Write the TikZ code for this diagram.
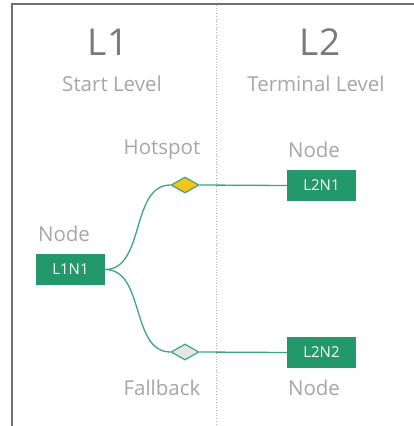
\documentclass[tikz,border=0pt]{standalone}
\usepackage{fontspec}
\setmainfont{Open Sans}
\usetikzlibrary{shapes.geometric}
\definecolor{frame}{HTML}{707070}
\definecolor{head}{HTML}{7A7A7A}
\definecolor{sub}{HTML}{A6A6A6}
\definecolor{dots}{HTML}{B0B0B0}
\definecolor{boxg}{HTML}{23986A}
\definecolor{lineg}{HTML}{3DA67C}
\definecolor{hot}{HTML}{F5C518}
\definecolor{fall}{HTML}{E6E6E6}
\begin{document}
\begin{tikzpicture}[x=1pt,y=-1pt,
  title/.style={text=head,font=\fontsize{37}{40}\selectfont,inner sep=0pt},
  subtitle/.style={text=sub,font=\fontsize{20.5}{22}\selectfont,inner sep=0pt},
  lbl/.style={text=sub,font=\fontsize{20.5}{22}\selectfont,inner sep=0pt},
  nodebox/.style={fill=boxg,draw=none,minimum width=69pt,minimum height=31pt,inner sep=0pt,text=white,font=\fontsize{15}{17}\selectfont},
  spot/.style={diamond,draw=lineg,line width=1.2pt,minimum width=28pt,minimum height=16pt,inner sep=0pt,aspect=1.75},
  conn/.style={draw=lineg,line width=1.3pt}]
\useasboundingbox (0,0) rectangle (414,426);
\draw[frame,line width=2pt] (12,426) -- (12,4) -- (414,4);
\draw[dots,dotted,line width=0.7pt] (216,5) -- (216,426);
\node[title] (t1) at (108,42) {L1};
\node[title] (t2) at (320,42) {L2};
\node[subtitle] (s1) at (112,84) {Start Level};
\node[subtitle] (s2) at (316,84) {Terminal Level};
\node[nodebox] (l1n1) at (70.5,269.5) {L1N1};
\node[nodebox] (l2n1) at (321.5,185.5) {L2N1};
\node[nodebox] (l2n2) at (321.5,352.5) {L2N2};
\node[spot,fill=hot] (hs) at (185,185) {};
\node[spot,fill=fall] (fb) at (185,352) {};
\node[lbl] (lh) at (162,150) {Hotspot};
\node[lbl] (lf) at (162,388) {Fallback};
\node[lbl] (ln1) at (64,234) {Node};
\node[lbl] (ln2) at (314,150) {Node};
\node[lbl] (ln3) at (314,388) {Node};
\draw[conn] (l1n1.east) .. controls +(40,0) and +(-40,0) .. (hs.west);
\draw[conn] (l1n1.east) .. controls +(40,0) and +(-40,0) .. (fb.west);
\draw[conn] (hs.east) -- (l2n1.west);
\draw[conn] (fb.east) -- (l2n2.west);
\end{tikzpicture}
\end{document}
